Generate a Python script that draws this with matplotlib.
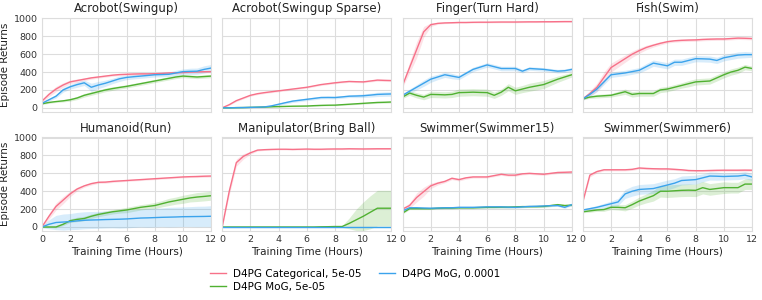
import matplotlib
matplotlib.use("Agg")
import matplotlib.pyplot as plt
import numpy as np

hours = [0, 0.5, 1, 1.5, 2, 2.5, 3, 3.5, 4, 4.5, 5, 5.5, 6, 6.5, 7, 7.5, 8, 8.5, 9, 9.5, 10, 10.5, 11, 11.5, 12]

titles = ["Acrobot(Swingup)", "Acrobot(Swingup Sparse)", "Finger(Turn Hard)", "Fish(Swim)",
          "Humanoid(Run)", "Manipulator(Bring Ball)", "Swimmer(Swimmer15)", "Swimmer(Swimmer6)"]
series_names = ["D4PG Categorical, 5e-05", "D4PG MoG, 5e-05", "D4PG MoG, 0.0001"]
colors = ["#f77189", "#50b131", "#3ba3ec"]

# Acrobot(Swingup)
acro_cat = [75, 150, 210, 255, 290, 305, 320, 335, 345, 355, 365, 372, 375, 378, 380, 380, 382, 385, 390, 392, 395, 400, 402, 404, 405]
acro_mog5 = [45, 60, 70, 78, 90, 110, 140, 160, 180, 200, 215, 228, 240, 255, 270, 285, 300, 315, 330, 345, 355, 350, 345, 350, 355]
acro_mog1 = [50, 90, 130, 200, 235, 260, 280, 230, 255, 275, 300, 325, 340, 348, 355, 362, 370, 372, 375, 390, 405, 408, 410, 430, 445]
acro_cat_b = [15, 25, 30, 25, 20, 18, 15, 15, 12, 12, 12, 12, 12, 12, 12, 12, 12, 12, 12, 12, 12, 12, 12, 12, 12]
acro_mog5_b = [8, 10, 10, 12, 15, 18, 20, 20, 20, 20, 20, 18, 18, 18, 18, 18, 18, 18, 18, 18, 18, 18, 18, 18, 18]
acro_mog1_b = [10, 15, 20, 25, 25, 30, 30, 45, 40, 35, 30, 30, 25, 25, 25, 25, 25, 25, 25, 30, 30, 35, 35, 40, 40]

# Acrobot(Swingup Sparse)
sparse_cat = [0, 35, 80, 110, 140, 158, 170, 180, 190, 200, 210, 220, 230, 245, 260, 270, 280, 288, 295, 292, 290, 300, 310, 307, 305]
sparse_mog5 = [0, 0, 2, 3, 5, 7, 9, 12, 14, 16, 18, 19, 20, 24, 27, 29, 30, 35, 40, 45, 50, 55, 60, 62, 65]
sparse_mog1 = [0, 0, 2, 3, 5, 7, 10, 22, 40, 58, 75, 85, 95, 105, 115, 116, 115, 122, 130, 132, 135, 142, 150, 153, 155]
sparse_cat_b = [5, 8, 10, 10, 10, 10, 10, 10, 10, 10, 10, 10, 10, 10, 10, 10, 10, 10, 10, 10, 10, 10, 12, 12, 12]
sparse_mog5_b = [2, 2, 3, 3, 4, 4, 5, 5, 5, 5, 6, 6, 6, 6, 6, 6, 7, 7, 8, 8, 8, 9, 10, 10, 10]
sparse_mog1_b = [2, 3, 3, 4, 5, 6, 8, 10, 12, 14, 15, 15, 15, 15, 15, 15, 15, 15, 15, 18, 20, 22, 24, 25, 25]

# Finger(Turn Hard)
finger_cat = [250, 450, 650, 850, 930, 945, 950, 952, 955, 955, 957, 958, 958, 959, 960, 960, 960, 961, 962, 962, 963, 963, 964, 965, 965]
finger_mog5 = [120, 165, 140, 120, 150, 148, 145, 150, 170, 172, 175, 172, 170, 140, 175, 230, 190, 210, 230, 245, 260, 290, 320, 345, 370]
finger_mog1 = [140, 185, 230, 275, 320, 345, 370, 355, 340, 385, 430, 455, 480, 460, 440, 440, 440, 410, 440, 435, 430, 420, 410, 415, 430]
finger_cat_b = [20, 60, 90, 60, 20, 10, 8, 8, 8, 8, 8, 8, 8, 8, 8, 8, 8, 8, 8, 8, 8, 8, 8, 8, 8]
finger_mog5_b = [15, 25, 30, 30, 35, 35, 35, 35, 40, 40, 40, 40, 40, 35, 35, 40, 40, 40, 45, 45, 45, 40, 35, 30, 25]
finger_mog1_b = [15, 25, 30, 35, 35, 30, 30, 30, 25, 25, 25, 25, 25, 25, 25, 25, 25, 20, 20, 20, 20, 20, 20, 20, 20]

# Fish(Swim)
fish_cat = [100, 160, 230, 340, 450, 500, 550, 600, 640, 675, 700, 722, 740, 750, 755, 758, 760, 765, 768, 770, 770, 775, 780, 778, 775]
fish_mog5 = [100, 120, 130, 135, 140, 160, 180, 150, 160, 160, 160, 200, 210, 230, 250, 270, 290, 295, 300, 335, 370, 400, 420, 455, 440]
fish_mog1 = [100, 150, 210, 290, 370, 380, 390, 405, 420, 460, 500, 485, 470, 510, 510, 530, 550, 548, 545, 530, 560, 575, 590, 595, 595]
fish_cat_b = [15, 30, 45, 60, 50, 45, 40, 35, 30, 25, 20, 18, 15, 15, 15, 15, 15, 15, 15, 15, 15, 15, 15, 15, 15]
fish_mog5_b = [10, 15, 20, 20, 20, 25, 30, 30, 30, 30, 30, 30, 30, 30, 30, 35, 35, 35, 35, 35, 35, 35, 35, 30, 25]
fish_mog1_b = [15, 25, 30, 30, 30, 30, 30, 30, 30, 35, 35, 35, 35, 35, 35, 35, 35, 35, 35, 35, 35, 35, 35, 35, 30]

# Humanoid(Run)
hum_cat = [0, 120, 230, 300, 370, 425, 460, 485, 500, 502, 510, 515, 520, 525, 530, 535, 540, 545, 550, 555, 560, 563, 565, 568, 570]
hum_mog5 = [0, 0, 0, 30, 70, 85, 95, 120, 140, 155, 170, 180, 190, 205, 220, 230, 240, 260, 280, 295, 310, 325, 335, 342, 350]
hum_mog1 = [0, 30, 50, 55, 60, 68, 75, 78, 80, 83, 85, 87, 90, 95, 100, 102, 105, 108, 110, 112, 115, 116, 117, 118, 120]
hum_cat_b = [10, 30, 40, 40, 30, 20, 15, 15, 12, 12, 12, 10, 10, 10, 10, 10, 10, 10, 10, 10, 10, 10, 12, 12, 12]
hum_mog5_b = [5, 8, 10, 15, 20, 25, 25, 25, 25, 25, 25, 25, 30, 30, 30, 30, 35, 35, 40, 40, 45, 45, 50, 50, 50]
hum_mog1_b = [10, 50, 80, 90, 90, 95, 95, 95, 95, 95, 95, 100, 100, 100, 100, 105, 105, 105, 110, 110, 110, 112, 115, 115, 118]

# Manipulator(Bring Ball)
man_cat = [0, 400, 720, 790, 830, 860, 865, 868, 870, 870, 868, 870, 872, 870, 870, 872, 873, 873, 875, 874, 873, 874, 875, 875, 875]
man_mog5 = [0, 0, 0, 0, 0, 0, 0, 0, 0, 0, 0, 0, 0, 0, 2, 3, 5, 5, 40, 80, 120, 165, 210, 210, 210]
man_mog1 = [0, 0, 0, 0, 0, 0, 0, 0, 0, 0, 0, 0, 0, 0, 0, 0, 0, 0, 0, 0, 0, 0, 0, 0, 0]
man_cat_b = [5, 40, 40, 30, 15, 10, 8, 8, 8, 8, 8, 8, 8, 8, 8, 8, 8, 8, 8, 8, 8, 8, 8, 8, 8]
man_mog5_b = [2, 2, 2, 2, 2, 2, 2, 2, 2, 2, 2, 2, 2, 3, 3, 4, 5, 10, 60, 120, 160, 185, 200, 200, 200]
man_mog1_b = [2, 2, 2, 2, 2, 2, 2, 2, 2, 2, 2, 2, 2, 2, 2, 2, 2, 2, 2, 2, 2, 2, 2, 2, 2]

# Swimmer(Swimmer15)
sw15_cat = [200, 240, 330, 395, 460, 490, 510, 545, 530, 550, 560, 560, 560, 575, 590, 580, 580, 595, 600, 595, 590, 600, 610, 612, 615]
sw15_mog5 = [155, 205, 205, 205, 205, 210, 212, 212, 215, 215, 215, 218, 220, 220, 222, 222, 225, 228, 228, 228, 230, 240, 250, 240, 245]
sw15_mog1 = [180, 215, 215, 212, 210, 212, 215, 215, 220, 220, 220, 222, 225, 225, 225, 222, 220, 225, 230, 232, 235, 238, 240, 220, 250]
sw15_cat_b = [15, 30, 50, 50, 30, 20, 15, 15, 15, 15, 12, 12, 12, 12, 12, 12, 12, 12, 12, 12, 12, 12, 12, 12, 12]
sw15_mog5_b = [10, 10, 10, 10, 10, 10, 10, 10, 10, 10, 10, 10, 10, 10, 10, 10, 10, 10, 10, 10, 12, 12, 12, 12, 12]
sw15_mog1_b = [10, 10, 10, 10, 10, 10, 10, 10, 10, 10, 10, 10, 10, 10, 10, 10, 10, 10, 10, 10, 10, 10, 10, 12, 12]

# Swimmer(Swimmer6)
sw6_cat = [280, 580, 620, 640, 640, 640, 640, 645, 660, 655, 652, 650, 650, 645, 640, 632, 630, 630, 632, 634, 635, 635, 635, 636, 635]
sw6_mog5 = [170, 180, 190, 195, 220, 220, 215, 250, 290, 320, 350, 400, 400, 405, 410, 412, 410, 440, 420, 430, 440, 440, 440, 480, 480]
sw6_mog1 = [190, 205, 220, 240, 260, 280, 370, 400, 420, 425, 430, 450, 470, 490, 520, 525, 530, 550, 570, 568, 565, 568, 570, 580, 560]
sw6_cat_b = [15, 20, 15, 12, 12, 12, 12, 12, 12, 12, 12, 12, 12, 12, 12, 12, 12, 12, 12, 12, 12, 12, 12, 12, 12]
sw6_mog5_b = [10, 15, 15, 20, 25, 30, 35, 40, 45, 50, 60, 65, 70, 70, 70, 70, 70, 70, 65, 65, 65, 60, 60, 60, 60]
sw6_mog1_b = [10, 15, 20, 25, 30, 40, 50, 55, 55, 55, 55, 55, 55, 50, 50, 50, 50, 45, 45, 45, 40, 40, 40, 40, 40]

panels = [
    (acro_cat, acro_mog5, acro_mog1, acro_cat_b, acro_mog5_b, acro_mog1_b),
    (sparse_cat, sparse_mog5, sparse_mog1, sparse_cat_b, sparse_mog5_b, sparse_mog1_b),
    (finger_cat, finger_mog5, finger_mog1, finger_cat_b, finger_mog5_b, finger_mog1_b),
    (fish_cat, fish_mog5, fish_mog1, fish_cat_b, fish_mog5_b, fish_mog1_b),
    (hum_cat, hum_mog5, hum_mog1, hum_cat_b, hum_mog5_b, hum_mog1_b),
    (man_cat, man_mog5, man_mog1, man_cat_b, man_mog5_b, man_mog1_b),
    (sw15_cat, sw15_mog5, sw15_mog1, sw15_cat_b, sw15_mog5_b, sw15_mog1_b),
    (sw6_cat, sw6_mog5, sw6_mog1, sw6_cat_b, sw6_mog5_b, sw6_mog1_b),
]

plt.rcParams['font.family'] = ['DejaVu Sans']
fig, axes = plt.subplots(2, 4, figsize=(7.62, 3.0), dpi=100, sharex=True, sharey=True)
fig.subplots_adjust(left=0.055, right=0.987, top=0.94, bottom=0.23, wspace=0.065, hspace=0.27)

x = np.array(hours)
handles = []
for i, ax in enumerate(axes.flat):
    data = panels[i]
    ax.set_facecolor('white')
    ax.grid(True, color='#dddddd', linewidth=0.8)
    ax.set_axisbelow(True)
    for s in ax.spines.values():
        s.set_color('#dddddd')
        s.set_linewidth(0.8)
    for k in range(3):
        m = np.array(data[k], dtype=float)
        b = np.array(data[k + 3], dtype=float)
        ax.fill_between(x, m - b, m + b, color=colors[k], alpha=0.2, linewidth=0)
        ln, = ax.plot(x, m, color=colors[k], linewidth=1.0, label=series_names[k])
        if i == 0:
            handles.append(ln)
    ax.set_title(titles[i], fontsize=8.5, color='#222222', pad=4)
    ax.set_xlim(0, 12)
    ax.set_ylim(-45, 1005)
    ax.set_xticks([0, 2, 4, 6, 8, 10, 12])
    ax.set_yticks([0, 200, 400, 600, 800, 1000])
    ax.tick_params(labelsize=6.8, length=0, pad=3, colors='#333333')
    if i % 4 == 0:
        ax.set_ylabel("Episode Returns", fontsize=7.5, color='#222222', labelpad=3)
    if i >= 4:
        ax.set_xlabel("Training Time (Hours)", fontsize=7.5, color='#222222', labelpad=2)

fig.legend(handles=handles, labels=series_names, loc='upper center', bbox_to_anchor=(0.466, 0.135),
           ncol=2, frameon=False, fontsize=7.5, handlelength=1.5, columnspacing=1.7,
           handletextpad=0.7, labelspacing=0.3)

fig.savefig("out.png", dpi=100, facecolor='white')
